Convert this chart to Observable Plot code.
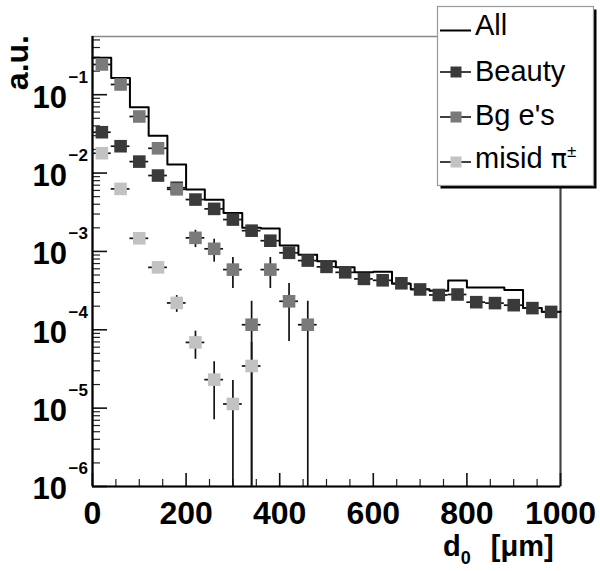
<!DOCTYPE html>
<html><head><meta charset="utf-8">
<script src="https://cdn.jsdelivr.net/npm/d3@7"></script>
<script src="https://cdn.jsdelivr.net/npm/@observablehq/plot@0.6"></script>
<style>body{margin:0;background:#fff;} svg{display:block;}</style>
</head><body><div id="chart"></div>
<script>
// ---- data ----
const binEdges = [0,40,80,120,160,200,240,280,320,360,400,440,480,520,560,600,640,680,720,760,800,840,880,920,960,1000];
const binCenters = [20,60,100,140,180,220,260,300,340,380,420,460,500,540,580,620,660,700,740,780,820,860,900,940,980];

const allValues = [0.296,0.163,0.069,0.030,0.0129,0.00615,0.00455,0.0031,0.0020,0.00196,0.00119,0.00091,0.000748,0.000627,0.000541,0.000552,0.000388,0.00033,0.000315,0.000424,0.000347,0.000347,0.000322,0.00019,0.00017];

const beautyValues = [0.0332,0.022,0.0140,0.0093,0.0065,0.00459,0.00349,0.00255,0.00184,0.00137,0.00096,0.000764,0.000635,0.000541,0.000446,0.000428,0.000392,0.000327,0.000278,0.000282,0.000225,0.000219,0.000206,0.000189,0.000169];
const beautyErrors = [0.0008,0.0006,0.0004,0.0003,0.0002,0.00012,0.0001,0.00007,0.00005,0.00004,0.00003,0.000025,0.00002,0.00002,0.000015,0.000015,0.000014,0.000012,0.00001,0.00001,0.000009,0.000009,0.000008,0.000008,0.000007];

const bgValues = [0.243,0.135,0.0527,0.0207,0.0062,0.00149,0.00108,0.000586,0.000116,0.000586,0.000231,0.000116];
const bgErrors = [0.004,0.003,0.0015,0.0008,0.0004,0.00037,0.00035,0.00025,0.000116,0.00025,0.00016,0.000116];

const misidValues = [0.0179,0.00628,0.00147,0.000626,0.00022,0.000069,0.0000231,0.0000113,0.0000345];
const misidErrors = [0.0005,0.0002,0.00006,0.00003,0.000053,0.000027,0.000016,0.0000113,0.0000345];

const xTicks = [0,200,400,600,800,1000];
const xMinorTicks = [50,100,150,250,300,350,450,500,550,650,700,750,850,900,950];
const yDecades = [1e-6,1e-5,1e-4,1e-3,1e-2,1e-1];
const yExponentLabels = ["\u22126","\u22125","\u22124","\u22123","\u22122","\u22121"];
const yMinorTicks = [];
for (let e = -6; e <= -1; e++) for (let m = 2; m <= 9; m++) { const v = m * Math.pow(10, e); if (v < 0.553) yMinorTicks.push(v); }

const legendLabels = ["All","Beauty","Bg e's","misid "];
const seriesColors = {beauty: "#3a3a3a", bg: "#7a7a7a", misid: "#c2c2c2"};

// ---- tables ----
const halfBin = 20;
function series(vals, errs) {
  return vals.map((v, i) => ({
    x: binCenters[i], v,
    lo: Math.max(v - errs[i], 1e-9), hi: v + errs[i],
    x1: binCenters[i] - halfBin, x2: binCenters[i] + halfBin
  }));
}
const beautyT = series(beautyValues, beautyErrors);
const bgT = series(bgValues, bgErrors);
const misidT = series(misidValues, misidErrors);
const allT = binEdges.map((e, i) => ({x: e, y: allValues[Math.min(i, allValues.length - 1)]}));

const W = 600, H = 571, mL = 92, mR = 40, mT = 36, mB = 85;
const pW = W - mL - mR, pH = H - mT - mB;
const font = "'Liberation Sans', Arial, Helvetica, sans-serif";

function seriesMarks(T, color) {
  return [
    Plot.ruleX(T, {x: "x", y1: "lo", y2: "hi", stroke: "#111", strokeWidth: 1.7, clip: true}),
    Plot.ruleY(T, {y: "v", x1: "x1", x2: "x2", stroke: "#111", strokeWidth: 1.7}),
    Plot.dot(T, {x: "x", y: "v", symbol: "square", r: 7.1, fill: color, stroke: "none"})
  ];
}

const plot = Plot.plot({
  width: W, height: H,
  marginLeft: mL, marginRight: mR, marginTop: mT, marginBottom: mB,
  style: {fontFamily: font, background: "white", overflow: "visible", color: "#000"},
  x: {domain: [0, 1000]},
  y: {type: "log", domain: [1e-6, 0.553], axis: null},
  marks: [
    Plot.frame({stroke: "#888", strokeWidth: 1.5}),
    Plot.ruleX([1000], {stroke: "#444", strokeWidth: 2}),
    Plot.tickY(yMinorTicks, {y: d => d, insetRight: pW - 8, stroke: "#222", strokeWidth: 1.2}),
    Plot.tickY(yDecades, {y: d => d, insetRight: pW - 15, stroke: "#111", strokeWidth: 1.6}),
    Plot.tickX(xMinorTicks, {x: d => d, insetTop: pH - 7, stroke: "#222", strokeWidth: 1.2}),
    Plot.tickX(xTicks, {x: d => d, insetTop: pH - 13, stroke: "#111", strokeWidth: 1.6}),
    Plot.ruleX([0], {stroke: "#000", strokeWidth: 2.2}),
    Plot.ruleY([1e-6], {stroke: "#000", strokeWidth: 2.2}),
    Plot.line(allT, {x: "x", y: "y", curve: "step-after", stroke: "#000", strokeWidth: 2}),
    ...seriesMarks(beautyT, seriesColors.beauty),
    ...seriesMarks(bgT, seriesColors.bg),
    ...seriesMarks(misidT, seriesColors.misid),
    Plot.axisX({ticks: xTicks, tickSize: 0, tickPadding: 15, fontSize: 32, fontWeight: "bold", tickFormat: d => String(d)}),
    Plot.text(yDecades, {y: d => d, frameAnchor: "left", text: () => "10", textAnchor: "end", dx: -25.5, dy: 3, fontSize: 31, fontWeight: "bold", fill: "#000"}),
    Plot.text(yDecades, {y: d => d, frameAnchor: "left", text: (d, i) => yExponentLabels[i], textAnchor: "start", dx: -24, dy: -17.5, fontSize: 17, fontWeight: "bold", fill: "#000"})
  ]
});

document.getElementById("chart").appendChild(plot);
const svg = d3.select(plot);

// axis titles
svg.append("text")
  .attr("transform", "translate(28,35) rotate(-90)")
  .attr("text-anchor", "end")
  .attr("font-size", 32).attr("font-weight", "bold").attr("font-family", font)
  .text("a.u.");

const xt = svg.append("text").attr("x", 443).attr("y", 556).attr("text-anchor", "start")
  .attr("font-size", 29).attr("font-weight", "bold").attr("font-family", font);
xt.append("tspan").text("d");
xt.append("tspan").attr("font-size", 18).attr("dy", 8).text("0");
xt.append("tspan").attr("dy", -8).attr("dx", 20).text("[\u03bcm]");

// legend
const lg = svg.append("g").attr("font-family", font).attr("text-anchor", "start");
lg.append("rect").attr("x", 440.5).attr("y", 9.5).attr("width", 156).attr("height", 179).attr("fill", "#000");
lg.append("rect").attr("x", 437.5).attr("y", 6.5).attr("width", 156).attr("height", 179)
  .attr("fill", "#fff").attr("stroke", "#999").attr("stroke-width", 1.2);
const rowY = [30.5, 72, 117, 162];
const rowBase = [35, 81, 125, 168];
const rowColors = [null, seriesColors.beauty, seriesColors.bg, seriesColors.misid];
legendLabels.forEach((lab, i) => {
  lg.append("line").attr("x1", 440).attr("x2", 471).attr("y1", rowY[i]).attr("y2", rowY[i])
    .attr("stroke", "#000").attr("stroke-width", i === 0 ? 2 : 1.5);
  if (rowColors[i]) {
    lg.append("rect").attr("x", 450.5).attr("y", rowY[i] - 5.5).attr("width", 11).attr("height", 11).attr("fill", rowColors[i]);
  }
  const t = lg.append("text").attr("x", 475).attr("y", rowBase[i]).attr("text-anchor", "start")
    .attr("font-size", 29).attr("fill", "#000").text(lab);
  if (i === 3) {
    t.append("tspan").attr("font-family", "'DejaVu Sans', sans-serif").attr("font-size", 27).text("\u03c0");
    t.append("tspan").attr("font-size", 17).attr("dy", -11).text("\u00b1");
  }
});
</script>
</body></html>
